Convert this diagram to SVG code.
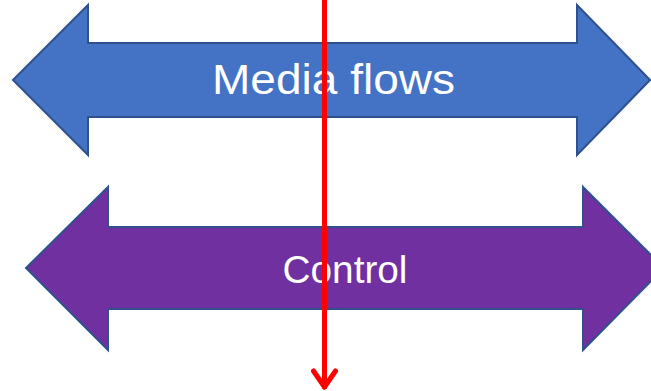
<svg xmlns="http://www.w3.org/2000/svg" width="651" height="391" viewBox="0 0 651 391">
<style>
.arr{stroke:#2F528F;stroke-width:2;stroke-linejoin:miter}
.lbl{font-family:"Liberation Sans",Arial,sans-serif;fill:#FFFFFF;text-anchor:middle}
.red{stroke:#FF0000;stroke-width:5;fill:none;stroke-linecap:round;stroke-linejoin:round}
</style>
<rect width="651" height="391" fill="#FFFFFF"/>
<g id="media">
<polygon class="arr" fill="#4472C4" points="13,80 88,5 88,43 577,43 577,5 650,80 577,155 577,117 88,117 88,155"/>
<text class="lbl" x="333.5" y="94" font-size="43" textLength="243" lengthAdjust="spacingAndGlyphs">Media flows</text>
</g>
<g id="control">
<polygon class="arr" fill="#7030A0" points="26,268 108,187 108,227 583,227 583,187 664,268 583,350 583,309 108,309 108,350"/>
<text class="lbl" x="345" y="283" font-size="39" textLength="125" lengthAdjust="spacingAndGlyphs">Control</text>
</g>
<g id="connectors">
<line class="red" x1="324.5" y1="-5" x2="324.5" y2="387"/>
<polyline class="red" points="313.5,371 324.5,387 335.5,371"/>
</g>
</svg>
